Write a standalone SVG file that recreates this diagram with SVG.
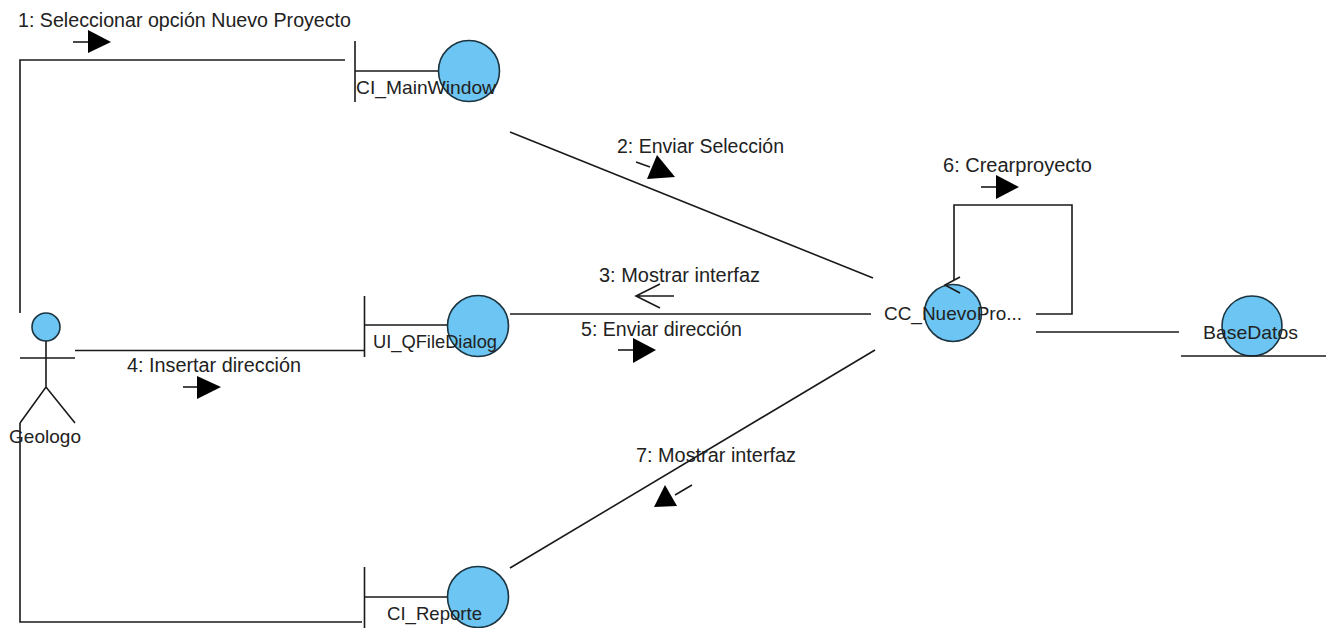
<svg xmlns="http://www.w3.org/2000/svg" width="1333" height="628" viewBox="0 0 1333 628">
<style>
text{font-family:"Liberation Sans",Arial,sans-serif;font-size:19.500px;fill:#222}
.n{font-size:19px}
.l{fill:none;stroke:#1a1a1a;stroke-width:1.6}
.c{fill:#6cc5f2;stroke:#1c3440;stroke-width:1.6}
.h{fill:#000;stroke:none}
</style>
<rect width="1333" height="628" fill="#fff"/>
<g id="connectors">
<path class="l" d="M20 313V60H345"/>
<path class="l" d="M75 350.500H364"/>
<path class="l" d="M20 423V622H362"/>
<path class="l" d="M510 132L873 278"/>
<path class="l" d="M510 314H871"/>
<path class="l" d="M510 568L875 350"/>
<path class="l" d="M954 280V205H1072V314H1036"/>
<path class="l" d="M1036 332H1179"/>
</g>
<g id="message-arrows">
<path class="l" d="M73 42H90"/><path class="h" d="M88 30V53L111 42Z"/>
<path class="l" d="M636 162L650 167"/><path class="h" d="M657 155L647 179L675 177Z"/>
<path class="l" d="M674 296H636M660 284L636 296L660 308"/>
<path class="l" d="M183 387H197"/><path class="h" d="M197 376V399L221 387Z"/>
<path class="l" d="M618 350H633"/><path class="h" d="M633 338V363L656 350Z"/>
<path class="l" d="M981 187H996"/><path class="h" d="M996 175V199L1019 187Z"/>
<path class="l" d="M692 485L675 495"/><path class="h" d="M665 485L654 507L677 506Z"/>
</g>
<g id="actor-geologo">
<circle class="c" cx="46" cy="327" r="14"/>
<path class="l" d="M46 341V387M20 358H75M20 423L46 387L75 423"/>
<text class="n" x="9" y="443" textLength="72">Geologo</text>
</g>
<g id="ci-mainwindow">
<path class="l" d="M355 41V102M355 71H440"/>
<circle class="c" cx="469" cy="71" r="30.500"/>
<text class="n" x="356" y="94" textLength="140" lengthAdjust="spacingAndGlyphs">CI_MainWindow</text>
</g>
<g id="ui-qfiledialog">
<path class="l" d="M364.500 296V357M365 325H448"/>
<circle class="c" cx="478" cy="326" r="30.500"/>
<text class="n" x="373" y="348" textLength="124" lengthAdjust="spacingAndGlyphs">UI_QFileDialog</text>
</g>
<g id="ci-reporte">
<path class="l" d="M364.500 567V628M365 597H448"/>
<circle class="c" cx="478" cy="597" r="30.500"/>
<text class="n" x="387" y="620" textLength="95" lengthAdjust="spacingAndGlyphs">CI_Reporte</text>
</g>
<g id="cc-nuevoproyecto">
<circle class="c" cx="953" cy="313" r="28.500"/>
<path class="l" d="M960 277L945 285L960 293"/>
<text class="n" x="884" y="320" textLength="138" lengthAdjust="spacingAndGlyphs">CC_NuevoPro...</text>
</g>
<g id="basedatos">
<circle class="c" cx="1252" cy="326" r="30"/>
<path class="l" d="M1181 356H1326"/>
<text class="n" x="1203" y="339" textLength="95" lengthAdjust="spacingAndGlyphs">BaseDatos</text>
</g>
<g id="message-labels">
<text x="18" y="27" textLength="333" lengthAdjust="spacingAndGlyphs">1: Seleccionar opción Nuevo Proyecto</text>
<text x="617" y="153" textLength="167" lengthAdjust="spacingAndGlyphs">2: Enviar Selección</text>
<text x="599" y="282" textLength="161" lengthAdjust="spacingAndGlyphs">3: Mostrar interfaz</text>
<text x="127" y="372" textLength="174" lengthAdjust="spacingAndGlyphs">4: Insertar dirección</text>
<text x="581" y="336" textLength="161" lengthAdjust="spacingAndGlyphs">5: Enviar dirección</text>
<text x="943" y="172" textLength="149" lengthAdjust="spacingAndGlyphs">6: Crearproyecto</text>
<text x="636" y="462" textLength="160" lengthAdjust="spacingAndGlyphs">7: Mostrar interfaz</text>
</g>
</svg>
